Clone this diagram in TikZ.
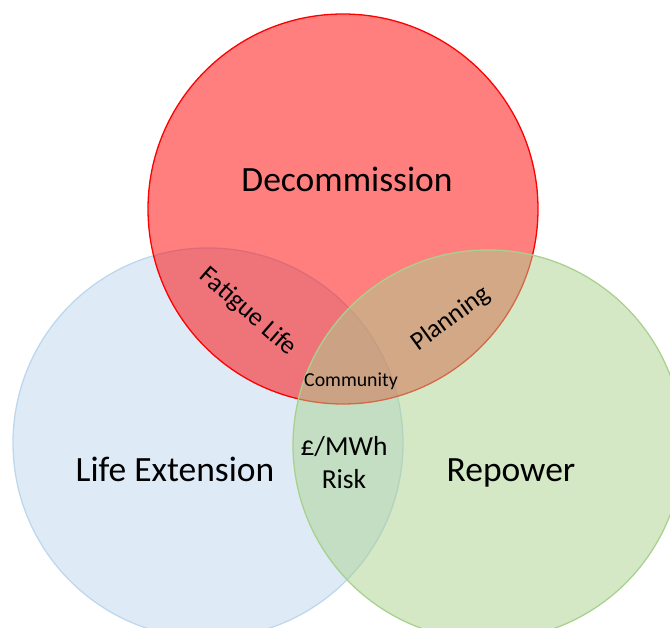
\documentclass[tikz,border=0pt]{standalone}
\usepackage{fontspec}
\setmainfont{Carlito}

\definecolor{decomred}{RGB}{255,0,0}
\definecolor{extblue}{RGB}{189,215,238}
\definecolor{repgreen}{RGB}{169,209,142}

\begin{document}
\begin{tikzpicture}[x=1pt,y=-1pt,
    vennset/.style={circle,minimum size=390pt,inner sep=0pt,
        line width=1.3pt,fill opacity=0.5},
    bigtext/.style={anchor=base,font=\fontsize{35.5}{40}\selectfont},
    midtext/.style={font=\fontsize{26}{30}\selectfont},
    smalltext/.style={anchor=base,font=\fontsize{19.8}{22}\selectfont}
    ]
    \useasboundingbox (0,0) rectangle (670,628);
    \clip (0,0) rectangle (670,628);

    % the three sets
    \node[vennset,draw=extblue,fill=extblue]     (lifeext) at (208,443) {};
    \node[vennset,draw=decomred,fill=decomred]   (decom)   at (343,209) {};
    \node[vennset,draw=repgreen,fill=repgreen]   (repower) at (488,445) {};

    % set names
    \node[bigtext] (decomlbl)   at (347,192) {Decommission};
    \node[bigtext] (lifeextlbl) at (175,482) {Life Extension};
    \node[bigtext] (repowerlbl) at (511,482) {Repower};

    % overlaps
    \node[midtext,rotate=-41] (fatigue)  at (248,312) {Fatigue Life};
    \node[midtext,rotate=36]  (planning) at (451,319) {Planning};
    \node[smalltext]          (community) at (351,387) {Community};
    \node[midtext,anchor=base,font=\fontsize{27.5}{30}\selectfont] (costmwh) at (344,456) {£/MWh};
    \node[midtext,anchor=base,font=\fontsize{27.5}{30}\selectfont] (risk)    at (344,489) {Risk};
\end{tikzpicture}
\end{document}
